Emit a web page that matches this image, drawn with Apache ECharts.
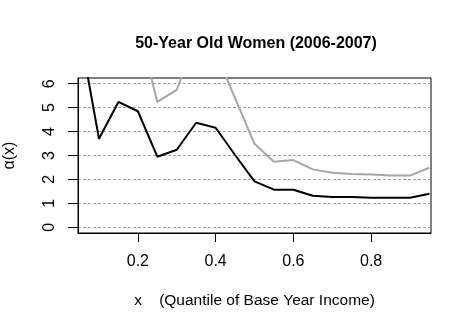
<!DOCTYPE html>
<html>
<head>
<meta charset="utf-8">
<script src="https://cdn.jsdelivr.net/npm/echarts@6/dist/echarts.min.js"></script>
<style>
  html, body { margin: 0; padding: 0; background: #fff; }
  #chart { width: 472px; height: 331px; }
</style>
</head>
<body>
<div id="chart"></div>
<script>
const quantiles = [0.05, 0.10, 0.15, 0.20, 0.25, 0.30, 0.35, 0.40, 0.45, 0.50,
                   0.55, 0.60, 0.65, 0.70, 0.75, 0.80, 0.85, 0.90, 0.95]
const alphaBlack = [8.2, 3.70, 5.24, 4.85, 2.95, 3.24, 4.37, 4.16, 3.02, 1.92,
                    1.57, 1.57, 1.32, 1.27, 1.27, 1.23, 1.23, 1.23, 1.40]
const alphaGray = [13, 11, 9.5, 8.5, 5.24, 5.74, 7.9, 7.3, 5.4, 3.49,
                   2.74, 2.81, 2.42, 2.28, 2.23, 2.21, 2.16, 2.16, 2.49]
const xTicks = [0.2, 0.4, 0.6, 0.8]
const yTicks = [0, 1, 2, 3, 4, 5, 6]

const font = 'Liberation Sans, Arial, sans-serif'
const chart = echarts.init(document.getElementById('chart'))

let option = {
    animation: false,
    title: {
        text: '50-Year Old Women (2006-2007)',
        left: 251,
        top: 31,
        textAlign: 'center',
        textStyle: { fontFamily: font, fontSize: 16, fontWeight: 'bold', color: '#000' }
    },
    grid: {
        left: 78,
        right: 41,
        top: 78,
        bottom: 98,
        containLabel: false,
        outerBoundsMode: 'none',
        show: true,
        borderColor: '#000',
        borderWidth: 1
    },
    xAxis: {
        type: 'value',
        min: 0.046,
        max: 0.954,
        name: 'x    (Quantile of Base Year Income)',
        nameLocation: 'middle',
        nameGap: 60,
        nameTextStyle: { fontFamily: font, fontSize: 15.5, color: '#000' },
        axisLine: { show: true, onZero: false, lineStyle: { color: '#000', width: 1 } },
        axisTick: { show: true, length: 9, lineStyle: { color: '#000' }, customValues: xTicks },
        axisLabel: {
            fontFamily: font, fontSize: 16, color: '#000', margin: 21,
            customValues: xTicks,
            formatter: v => v.toFixed(1)
        },
        splitLine: { show: false }
    },
    yAxis: {
        type: 'value',
        min: -0.24,
        max: 6.24,
        name: 'α(x)',
        nameLocation: 'middle',
        nameGap: 60,
        nameTextStyle: { fontFamily: font, fontSize: 16, color: '#000' },
        axisLine: { show: true, onZero: false, lineStyle: { color: '#000', width: 1 } },
        axisTick: { show: true, length: 10, lineStyle: { color: '#000' }, customValues: yTicks },
        axisLabel: {
            fontFamily: font, fontSize: 16, color: '#000', margin: 20, rotate: 90,
            customValues: yTicks
        },
        splitLine: { show: true, lineStyle: { color: '#A0A0A0', width: 1, type: [3, 2] } }
    },
    series: [
        {
            name: 'gray',
            type: 'line',
            data: quantiles.map((q, i) => [q, alphaGray[i]]),
            showSymbol: false,
            clip: true,
            lineStyle: { color: '#A6A6A6', width: 2 }
        },
        {
            name: 'black',
            type: 'line',
            data: quantiles.map((q, i) => [q, alphaBlack[i]]),
            showSymbol: false,
            clip: true,
            lineStyle: { color: '#000', width: 2 }
        }
    ]
}

chart.setOption(option)
</script>
</body>
</html>
